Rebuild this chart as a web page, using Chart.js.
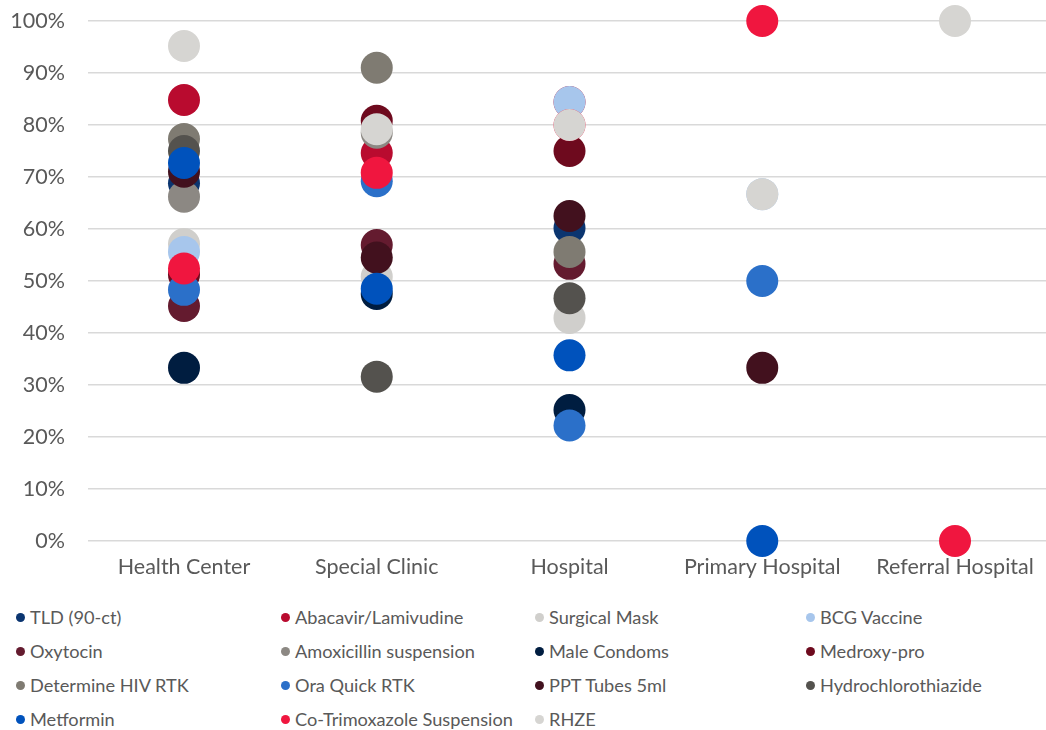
<!DOCTYPE html>
<html>
<head>
<meta charset="utf-8">
<script src="https://cdn.jsdelivr.net/npm/chart.js@4/dist/chart.umd.min.js"></script>
<style>
  html, body { margin: 0; padding: 0; background: #ffffff; }
  #wrap { position: relative; width: 1046px; height: 730px; overflow: hidden; }
  #chartBox { position: absolute; left: 0; top: 0; width: 1046px; height: 600px; }
  #legend { position: absolute; left: 16px; top: 600px; display: grid;
    grid-template-columns: 265px 254px 271px 220px; grid-auto-rows: 34px;
    font-family: Lato, "Open Sans", sans-serif; font-size: 18.2px; color: #595959; }
  .item { display: flex; align-items: center; white-space: nowrap; }
  .dot { width: 9px; height: 9px; border-radius: 50%; margin-right: 5px; flex: none; }
</style>
</head>
<body>
<div id="wrap">
  <div id="chartBox"><canvas id="c"></canvas></div>
  <div id="legend"></div>
</div>
<script>
const categories = ["Health Center", "Special Clinic", "Hospital", "Primary Hospital", "Referral Hospital"];
const yTicks = [0, 10, 20, 30, 40, 50, 60, 70, 80, 90, 100];

const seriesNames = ["TLD (90-ct)", "Abacavir/Lamivudine", "Surgical Mask", "BCG Vaccine", "Oxytocin",
  "Amoxicillin suspension", "Male Condoms", "Medroxy-pro", "Determine HIV RTK", "Ora Quick RTK",
  "PPT Tubes 5ml", "Hydrochlorothiazide", "Metformin", "Co-Trimoxazole Suspension", "RHZE"];

const tld          = [68.8, null, 60.2, null, null];
const abacavir     = [84.8, 74.6, 84.4, null, null];
const surgicalMask = [57.1, 50.8, 42.9, null, null];
const bcg          = [55.6, null, 84.4, 66.7, null];
const oxytocin     = [45.2, 56.9, 53.3, null, null];
const amoxicillin  = [66.2, 78.5, null, null, null];
const maleCondoms  = [33.3, 47.5, 25.2, null, null];
const medroxy      = [51.2, 80.8, 75.0, null, null];
const determine    = [77.3, 91.0, 55.6, null, null];
const oraQuick     = [48.3, 69.2, 22.2, 50.0, null];
const pptTubes     = [71.0, 54.5, 62.5, 33.3, null];
const hydro        = [75.0, 31.6, 46.7, null, null];
const metformin    = [72.7, 48.5, 35.7, 0, null];
const coTrim       = [52.4, 70.8, 80.0, 100, 0];
const rhze         = [95.2, 79.2, 80.0, 66.7, 100];

const seriesValues = [tld, abacavir, surgicalMask, bcg, oxytocin, amoxicillin, maleCondoms, medroxy,
  determine, oraQuick, pptTubes, hydro, metformin, coTrim, rhze];

const seriesColors = ["#0b3570", "#b90b2f", "#d0cfcc", "#a7c6ec", "#641b2f", "#8c8883", "#001d40",
  "#6e0a1e", "#7f7b72", "#2b70c9", "#42111e", "#54524e", "#0052bc", "#f0163f", "#d6d5d2"];

const N = seriesNames.length;
const datasets = seriesNames.map((name, i) => ({
  label: name,
  data: seriesValues[i].map((v, k) => (v === null ? null : { x: k, y: v })).filter(p => p !== null),
  showLine: false,
  clip: false,
  backgroundColor: seriesColors[i],
  borderColor: seriesColors[i],
  borderWidth: 0,
  pointRadius: 16,
  pointHoverRadius: 16,
  order: N - i
}));

const font = "Lato, 'Open Sans', sans-serif";

new Chart(document.getElementById('c'), {
  type: 'scatter',
  data: { datasets },
  options: {
    responsive: true,
    maintainAspectRatio: false,
    animation: false,
    events: [],
    layout: { autoPadding: false, padding: { top: 21, right: 0, bottom: 0, left: 0 } },
    plugins: { legend: { display: false }, tooltip: { enabled: false } },
    scales: {
      x: {
        type: 'linear',
        min: -0.498, max: 4.472,
        afterBuildTicks: (s) => { s.ticks = categories.map((c, k) => ({ value: k })); },
        grid: { display: false, drawTicks: false },
        border: { display: false },
        ticks: { color: '#595959', font: { family: font, size: 21.5 }, padding: 13, maxRotation: 0,
          autoSkip: false, callback: (v) => categories[v] },
        afterFit: (s) => { s.height = 59; s.paddingLeft = 0; s.paddingRight = 0; }
      },
      y: {
        min: 0, max: 100,
        afterBuildTicks: (s) => { s.ticks = yTicks.map(v => ({ value: v })); },
        grid: { color: '#d9d9d9', lineWidth: 1.5, drawTicks: false },
        border: { display: false },
        ticks: { color: '#595959', font: { family: font, size: 21.5 }, padding: 23,
          callback: (v) => v + '%' },
        afterFit: (s) => { s.width = 88; s.paddingTop = 0; s.paddingBottom = 0; }
      }
    }
  }
});

const legend = document.getElementById('legend');
seriesNames.forEach((name, i) => {
  const d = document.createElement('div');
  d.className = 'item';
  d.innerHTML = '<span class="dot" style="background:' + seriesColors[i] + '"></span><span></span>';
  d.lastChild.textContent = name;
  legend.appendChild(d);
});
</script>
</body>
</html>
